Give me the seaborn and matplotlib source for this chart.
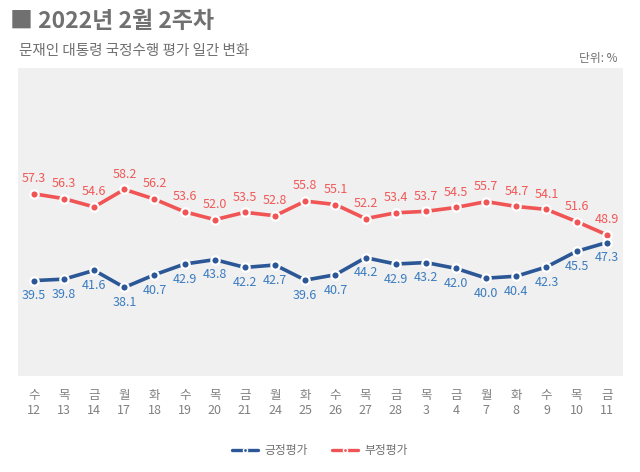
import matplotlib
matplotlib.use("Agg")
import matplotlib.pyplot as plt
import seaborn as sns
import pandas as pd
from matplotlib.lines import Line2D

days = ["수", "목", "금", "월", "화", "수", "목", "금", "월", "화",
        "수", "목", "금", "목", "금", "월", "화", "수", "목", "금"]
dates = ["12", "13", "14", "17", "18", "19", "20", "21", "24", "25",
         "26", "27", "28", "3", "4", "7", "8", "9", "10", "11"]
positive = [39.5, 39.8, 41.6, 38.1, 40.7, 42.9, 43.8, 42.2, 42.7, 39.6,
            40.7, 44.2, 42.9, 43.2, 42.0, 40.0, 40.4, 42.3, 45.5, 47.3]
negative = [57.3, 56.3, 54.6, 58.2, 56.2, 53.6, 52.0, 53.5, 52.8, 55.8,
            55.1, 52.2, 53.4, 53.7, 54.5, 55.7, 54.7, 54.1, 51.6, 48.9]

sns.set_style("white")
plt.rcParams["font.family"] = ["Noto Sans CJK KR", "DejaVu Sans"]

blue_line = "#2b5797"
blue_text = "#3b7cc0"
red_line = "#f05454"
red_text = "#f05858"
gray = "#707070"
tick_gray = "#808080"

df = pd.DataFrame({"idx": range(len(dates)), "pos": positive, "neg": negative})

fig = plt.figure(figsize=(6.4, 4.72), dpi=100)
ax = fig.add_axes([0.028, 0.203, 0.945, 0.653])
ax.set_facecolor("#f0f0f0")

marker_kw = dict(marker="o", markersize=6, markeredgecolor="white", markeredgewidth=1.6)
sns.lineplot(data=df, x="idx", y="neg", ax=ax, color=red_line, linewidth=2.6,
             markerfacecolor=red_line, **marker_kw)
sns.lineplot(data=df, x="idx", y="pos", ax=ax, color=blue_line, linewidth=2.6,
             markerfacecolor=blue_line, **marker_kw)

for i, v in enumerate(negative):
    ax.annotate(f"{v:.1f}", (i, v), xytext=(0, 11), textcoords="offset points",
                ha="center", va="center", color=red_text, fontsize=9)
for i, v in enumerate(positive):
    ax.annotate(f"{v:.1f}", (i, v), xytext=(0, -11), textcoords="offset points",
                ha="center", va="center", color=blue_text, fontsize=9)

ax.set_xlim(-0.53, 19.53)
ax.set_ylim(19.9, 83.1)
ax.set_yticks([])
ax.set_xticks(range(len(dates)))
ax.set_xticklabels([f"{d}\n{n}" for d, n in zip(days, dates)], color=tick_gray,
                   fontsize=9, linespacing=1.25)
ax.tick_params(axis="x", length=0, pad=9)
ax.set_xlabel("")
ax.set_ylabel("")
for s in ax.spines.values():
    s.set_visible(False)

fig.text(0.016, 0.955, "■ 2022년 2월 2주차", fontsize=16.5, fontweight="bold",
         color="#707070", va="center")
fig.text(0.030, 0.892, "문재인 대통령 국정수행 평가 일간 변화", fontsize=10.5,
         color="#707070", va="center")
fig.text(0.965, 0.876, "단위: %", fontsize=8.5, color="#707070", va="center", ha="right")

handles = [
    Line2D([], [], color=blue_line, linewidth=2.4, marker="o", markersize=3,
           markerfacecolor=blue_line, markeredgecolor="white", markeredgewidth=1),
    Line2D([], [], color=red_line, linewidth=2.4, marker="o", markersize=3,
           markerfacecolor=red_line, markeredgecolor="white", markeredgewidth=1),
]
fig.legend(handles, ["긍정평가", "부정평가"], loc="center", bbox_to_anchor=(0.5, 0.046),
           ncol=2, frameon=False, fontsize=8.5, labelcolor=gray, handlelength=2.2,
           columnspacing=2.0, handletextpad=0.6)

fig.savefig("out.png", dpi=100, facecolor="white")
